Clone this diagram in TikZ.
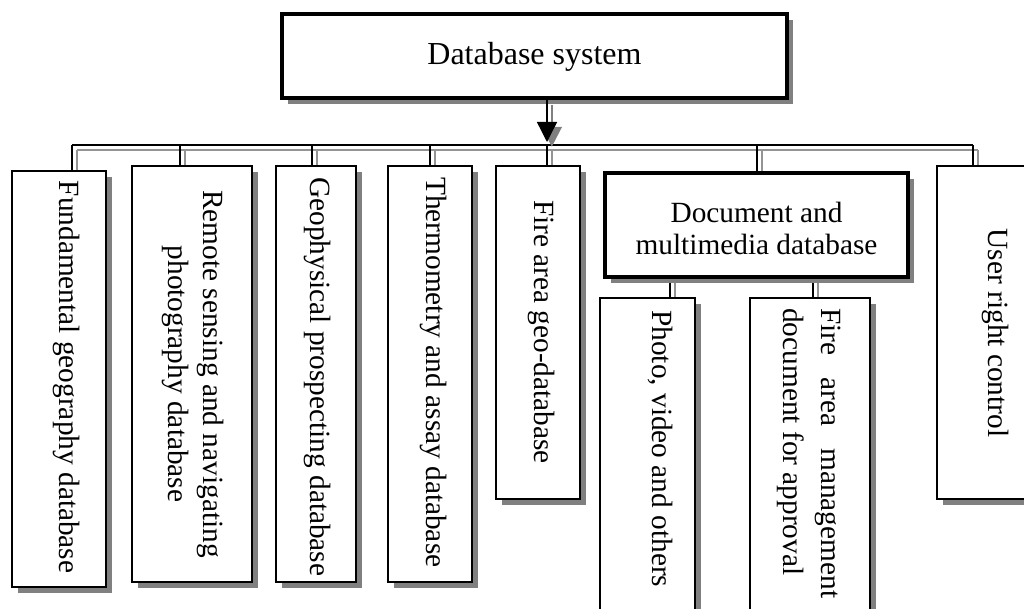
\documentclass[tikz,border=0pt]{standalone}
\usepackage{fontspec}
\setmainfont{Liberation Serif}
\usetikzlibrary{shadows,fit,arrows.meta}
\pgfdeclarelayer{bg}
\pgfsetlayers{bg,main}
\newcommand{\myconnectors}[1]{%
  \draw[#1] (d1) -- (d7);
  \draw[#1] (d1) -- (b1.north -| d1);
  \draw[#1] (d2) -- (b2.north -| d2);
  \draw[#1] (d3) -- (b3.north -| d3);
  \draw[#1] (d4) -- (b4.north -| d4);
  \draw[#1] (d5) -- (b5.north -| d5);
  \draw[#1] (d6) -- (doc.north -| d6);
  \draw[#1] (d7) -- (b7.north -| d7);
  \draw[#1] (doc.south -| sx1) -- (p1.north -| sx1);
  \draw[#1] (doc.south -| sx2) -- (p2.north -| sx2);
}
\begin{document}
\begin{tikzpicture}[x=0.75pt,y=-0.75pt,
  box/.style={draw, fill=white, line width=1.5pt, inner sep=0pt,
    drop shadow={shadow xshift=4.2pt, shadow yshift=-4.2pt, fill=black!50, opacity=1}},
  bigbox/.style={box, line width=2.8pt},
  docbox/.style={box, line width=2.3pt},
  lbl/.style={font=\fontsize{22}{26}\selectfont, inner sep=0pt},
  vlbl/.style={lbl, rotate=-90, align=center},
  conn/.style={draw=black, line width=1pt},
  connsh/.style={draw=black!42, line width=1.8pt},
  shadowed/.style={transform canvas={xshift=3.6pt, yshift=-3.6pt}},
  tip/.style={-{Triangle[length=15pt,width=15pt]}}
]
\useasboundingbox (0,0) rectangle (1024,609);
\clip (0,0) rectangle (1024,609);

% boxes
\node[bigbox, fit={(282,14)(787,98)}] (top) {};
\node[lbl, font=\fontsize{24}{28}\selectfont] (topt) at (534.5,57) {Database system};

\node[box, fit={(12,171)(106,587)}] (b1) {};
\node[box, fit={(132,166)(252,582)}] (b2) {};
\node[box, fit={(276,166)(356,582)}] (b3) {};
\node[box, fit={(388,166)(472,582)}] (b4) {};
\node[box, fit={(496,166)(580,499)}] (b5) {};
\node[docbox, fit={(605,173)(908,277)}] (doc) {};
\node[box, fit={(937,166)(1045,499)}] (b7) {};
\node[box, fit={(600,298)(695,630)}] (p1) {};
\node[box, fit={(750,298)(870,630)}] (p2) {};

% texts
\node[vlbl] (t1) at (67,377) {Fundamental geography database};
\node[vlbl] (t2) at (193,374) {Remote sensing and navigating\\photography database};
\node[vlbl, anchor=west] (t3) at (318,177) {Geophysical prospecting database};
\node[vlbl, anchor=west] (t4) at (434,177) {Thermometry and assay database};
\node[vlbl] (t5) at (542,332) {Fire area geo-database};
\node[lbl, align=center, font=\fontsize{22}{24}\selectfont] (tdoc) at (756.5,228) {Document and\\multimedia database};
\node[vlbl] (t7) at (995,333) {User right control};
\node[vlbl, anchor=west] (tp1) at (660,310) {Photo, video and others};
\node[vlbl, anchor=west, align=left, font=\fontsize{22}{28}\selectfont] (tp2) at (809,308) {\makebox[217.5pt][s]{Fire area management}\\document for approval};

% connector coordinates
\coordinate (d1) at (72,145);
\coordinate (d2) at (180,145);
\coordinate (d3) at (312,145);
\coordinate (d4) at (430,145);
\coordinate (d5) at (547,145);
\coordinate (d6) at (757,145);
\coordinate (d7) at (973,145);
\coordinate (sx1) at (670,0);
\coordinate (sx2) at (813,0);
\coordinate (arr) at (547,142);

\begin{pgfonlayer}{bg}
\begin{scope}[shadowed]
\myconnectors{connsh}
\end{scope}
\myconnectors{conn}
\end{pgfonlayer}
\begin{scope}[shadowed]
\draw[connsh, tip, black!50, fill=black!50] (top.south -| d5) -- (arr);
\end{scope}
\draw[conn, tip] (top.south -| d5) -- (arr);
\end{tikzpicture}
\end{document}
